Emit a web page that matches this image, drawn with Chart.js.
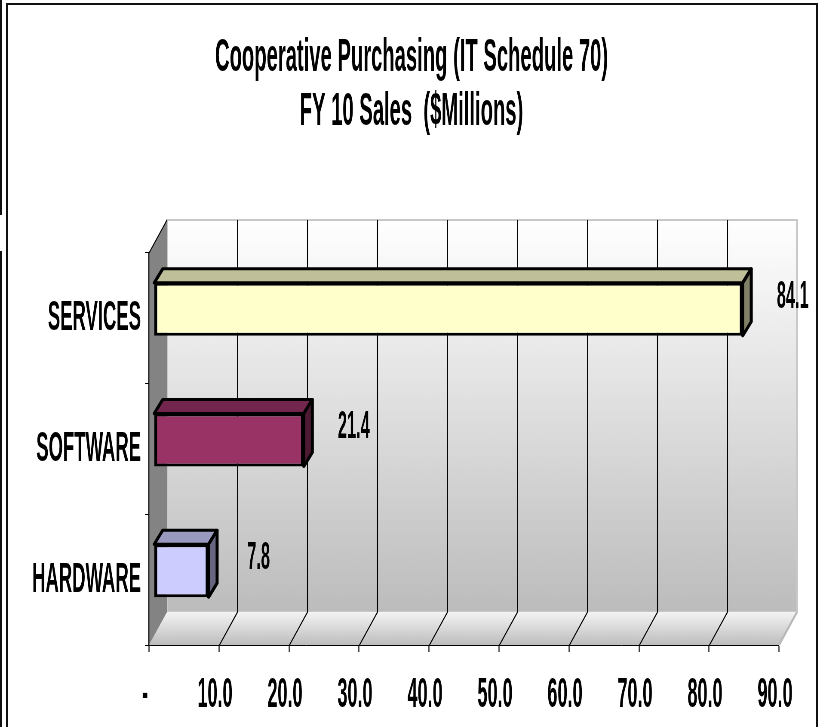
<!DOCTYPE html>
<html>
<head>
<meta charset="utf-8">
<script src="https://cdn.jsdelivr.net/npm/chart.js@4.4.0/dist/chart.umd.min.js"></script>
<style>
  html, body { margin: 0; padding: 0; background: #fff; overflow: hidden; }
  #wrap { position: relative; width: 823px; height: 727px; overflow: hidden; background: #fff; }
  #chart { position: absolute; left: 0; top: 0; transform-origin: 0 0; }
  .frame { position: absolute; left: 6px; top: 3px; width: 812px; height: 800px; border: 2px solid #111; box-sizing: border-box; }
  .edge { position: absolute; left: 0; width: 2px; background: #111; }
</style>
</head>
<body>
<div id="wrap">
  <canvas id="chart"></canvas>
  <div class="frame"></div>
  <div class="edge" style="top:0;height:215px"></div>
  <div class="edge" style="top:251px;height:476px"></div>
</div>
<script>
// data
const titleLines = ['Cooperative Purchasing (IT Schedule 70)', 'FY 10 Sales  ($Millions)'];
const categories = ['SERVICES', 'SOFTWARE', 'HARDWARE'];
const sales = [84.1, 21.4, 7.8];
const axisMax = 90;
const axisStep = 10;

// styles
const barColors = ['#FFFFCC', '#993366', '#CCCCFF'];
const FONT = '"Liberation Sans Narrow", "Arial Narrow", sans-serif';

// the original is a tall, narrow rendering: draw wide, then squeeze horizontally
const SX = 0.43;
const W = Math.round(823 / SX);
const H = 727;

// front plane of the plot, in page px
const PLOT = { left: 149, right: 779, top: 253, bottom: 645 };
const DEPTH = { x: 18, y: -33 };      // back wall offset
const BAR_SHIFT = { x: 5, y: -9 };    // bars sit halfway into the depth
const BAR_DEPTH = { x: 8.5, y: -14 };

function shade(hex, k) {
  const n = parseInt(hex.slice(1), 16);
  const r = Math.round(((n >> 16) & 255) * k);
  const g = Math.round(((n >> 8) & 255) * k);
  const b = Math.round((n & 255) * k);
  return `rgb(${r},${g},${b})`;
}

function poly(ctx, pts, fill, stroke, lw) {
  ctx.beginPath();
  ctx.moveTo(pts[0][0], pts[0][1]);
  for (let i = 1; i < pts.length; i++) ctx.lineTo(pts[i][0], pts[i][1]);
  ctx.closePath();
  if (fill) { ctx.fillStyle = fill; ctx.fill(); }
  if (stroke) { ctx.strokeStyle = stroke; ctx.lineWidth = lw; ctx.stroke(); }
}

const box3d = {
  id: 'box3d',
  beforeDraw(chart) {
    const { ctx, chartArea: a } = chart;
    const xs = chart.scales.x;
    // work in page px so strokes stay even after the squeeze
    ctx.save();
    ctx.scale(1 / SX, 1);
    const L = a.left * SX, R = a.right * SX, T = a.top, B = a.bottom;
    const dx = DEPTH.x, dy = DEPTH.y;

    let g = ctx.createLinearGradient(0, T + dy, 0, B + dy);
    g.addColorStop(0, '#ffffff');
    g.addColorStop(1, '#bcbcbc');
    poly(ctx, [[L + dx, T + dy], [R + dx, T + dy], [R + dx, B + dy], [L + dx, B + dy]], g, '#c8c8c8', 2);

    g = ctx.createLinearGradient(0, B + dy, 0, B);
    g.addColorStop(0, '#f4f4f4');
    g.addColorStop(1, '#bdbdbd');
    poly(ctx, [[L, B], [L + dx, B + dy], [R + dx, B + dy], [R, B]], g, null, 0);
    ctx.strokeStyle = '#b8b8b8';
    ctx.lineWidth = 2;
    ctx.beginPath();
    ctx.moveTo(R, B); ctx.lineTo(R + dx, B + dy);
    ctx.stroke();

    poly(ctx, [[L, T], [L + dx, T + dy], [L + dx, B + dy], [L, B]], '#838383', null, 0);
    ctx.strokeStyle = '#000';
    ctx.lineWidth = 1;
    ctx.beginPath();
    ctx.moveTo(L, T); ctx.lineTo(L + dx, T + dy);
    ctx.stroke();

    // grid lines on the back wall and the floor
    ctx.beginPath();
    xs.ticks.forEach(t => {
      if (t.value <= xs.min || t.value >= xs.max) return;
      const px = Math.round(xs.getPixelForValue(t.value) * SX) + 0.5;
      ctx.moveTo(px + dx, T + dy);
      ctx.lineTo(px + dx, B + dy);
      ctx.lineTo(px, B);
    });
    ctx.stroke();
    ctx.restore();
  },
  beforeDatasetsDraw(chart) {
    chart.ctx.save();
    chart.ctx.translate(BAR_SHIFT.x / SX, BAR_SHIFT.y);
  },
  afterDatasetsDraw(chart) {
    const ctx = chart.ctx;
    ctx.restore();
    const meta = chart.getDatasetMeta(0);
    const ds = chart.data.datasets[0];
    meta.data.forEach((el, i) => {
      const p = el.getProps(['x', 'y', 'base', 'height'], true);
      const x0 = p.base * SX + BAR_SHIFT.x;
      const x1 = p.x * SX + BAR_SHIFT.x;
      const yt = p.y - p.height / 2 + BAR_SHIFT.y;
      const yb = p.y + p.height / 2 + BAR_SHIFT.y;
      const bx = BAR_DEPTH.x, by = BAR_DEPTH.y;
      const col = barColors[i];
      ctx.save();
      ctx.scale(1 / SX, 1);
      ctx.lineJoin = 'round';
      poly(ctx, [[x0, yt], [x0 + bx, yt + by], [x1 + bx, yt + by], [x1, yt]], shade(col, 0.75), '#000', 3);
      poly(ctx, [[x1, yt], [x1 + bx, yt + by], [x1 + bx, yb + by], [x1, yb]], shade(col, 0.5), '#000', 3);
      ctx.restore();

      // value label
      ctx.save();
      ctx.fillStyle = '#000';
      ctx.font = 'bold 38px ' + FONT;
      ctx.textAlign = 'center';
      ctx.textBaseline = 'middle';
      ctx.fillText(ds.data[i].toFixed(1), (x1 + 50) / SX, p.y + BAR_SHIFT.y - 12);
      ctx.restore();
    });
  }
};

const canvas = document.getElementById('chart');
canvas.width = W;
canvas.height = H;
canvas.style.transform = `scaleX(${SX})`;

const titleSize = 47;
const titleLine = 1.15;
const titleTop = 31;

new Chart(canvas, {
  type: 'bar',
  data: {
    labels: categories,
    datasets: [{
      data: sales,
      backgroundColor: barColors,
      borderColor: '#000',
      borderWidth: { top: 3, bottom: 3, left: 3 / SX, right: 3 / SX },
      borderSkipped: false,
      categoryPercentage: 1,
      barPercentage: 0.405
    }]
  },
  options: {
    indexAxis: 'y',
    responsive: false,
    animation: false,
    devicePixelRatio: 1,
    layout: { padding: 0 },
    plugins: {
      legend: { display: false },
      tooltip: { enabled: false },
      title: {
        display: true,
        text: titleLines,
        color: '#000',
        font: { family: FONT, size: titleSize, weight: 'bold', lineHeight: titleLine },
        padding: { top: titleTop, bottom: PLOT.top - titleTop - 2 * titleSize * titleLine }
      }
    },
    scales: {
      x: {
        type: 'linear',
        min: 0,
        max: axisMax,
        afterFit: s => { s.height = H - PLOT.bottom; },
        grid: { drawOnChartArea: false, drawTicks: true, tickLength: 7, tickWidth: 1 / SX, tickColor: '#000' },
        border: { display: true, color: '#000', width: 1 },
        ticks: {
          stepSize: axisStep,
          autoSkip: false,
          maxRotation: 0,
          color: '#000',
          padding: 18,
          labelOffset: -4 / SX,
          font: { family: FONT, size: 42, weight: 'bold' },
          callback: v => (v === 0 ? '-' : v.toFixed(1))
        }
      },
      y: {
        afterFit: s => { s.width = PLOT.left / SX; },
        grid: { offset: true, drawOnChartArea: false, drawTicks: true, tickLength: 4 / SX, tickWidth: 1, tickColor: '#000' },
        border: { display: true, color: '#000', width: 1 / SX },
        ticks: { color: '#000', padding: 4 / SX, font: { family: FONT, size: 43, weight: 'bold' } }
      },
      // empty axis that only reserves the space right of the plot
      yRight: {
        type: 'category',
        position: 'right',
        labels: [],
        grid: { display: false },
        border: { display: false },
        ticks: { display: false },
        afterFit: s => { s.width = (823 - PLOT.right) / SX; }
      }
    }
  },
  plugins: [box3d]
});
</script>
</body>
</html>
